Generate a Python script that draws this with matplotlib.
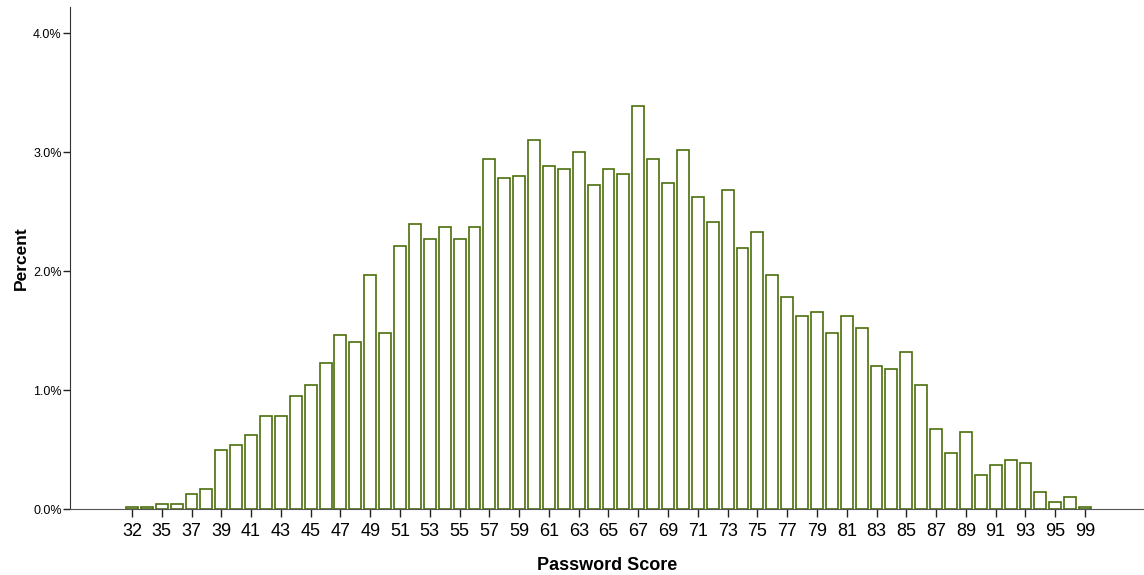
import matplotlib
matplotlib.use("Agg")
import matplotlib.pyplot as plt
import numpy as np

# password score categories (one bar each) and percent of respondents
scores = [32, 34, 35, 36, 37, 38, 39, 40, 41, 42, 43, 44, 45, 46, 47, 48, 49, 50,
          51, 52, 53, 54, 55, 56, 57, 58, 59, 60, 61, 62, 63, 64, 65, 66, 67, 68,
          69, 70, 71, 72, 73, 74, 75, 76, 77, 78, 79, 80, 81, 82, 83, 84, 85, 86,
          87, 88, 89, 90, 91, 92, 93, 94, 95, 97, 99]
percent = [0.02, 0.02, 0.04, 0.04, 0.13, 0.17, 0.50, 0.54, 0.62, 0.78, 0.78, 0.95,
           1.04, 1.23, 1.46, 1.40, 1.97, 1.48, 2.21, 2.40, 2.27, 2.37, 2.27, 2.37,
           2.94, 2.78, 2.80, 3.10, 2.88, 2.86, 3.00, 2.72, 2.86, 2.82, 3.39, 2.94,
           2.74, 3.02, 2.62, 2.41, 2.68, 2.19, 2.33, 1.97, 1.78, 1.62, 1.66, 1.48,
           1.62, 1.52, 1.20, 1.18, 1.32, 1.04, 0.67, 0.47, 0.65, 0.29, 0.37, 0.41,
           0.39, 0.14, 0.06, 0.10, 0.02]
ytick_vals = [0, 1, 2, 3, 4]

plt.rcParams['font.family'] = ['Liberation Sans', 'DejaVu Sans']

fig = plt.figure(figsize=(11.44, 5.75), dpi=100)
ax = fig.add_axes([70 / 1144, 66 / 575, 1074 / 1144, 502 / 575])

pos = np.arange(len(scores))
ax.bar(pos, percent, width=0.8, facecolor='white', edgecolor='#4a6e0c', linewidth=1.2)

ax.set_xlim(-4.16, len(scores) - 1 + 3.96)
ax.set_ylim(0, 4.22)

ax.set_xticks(pos[::2])
ax.set_xticklabels([str(s) for s in scores[::2]],
                   family=['Liberation Sans Narrow', 'Liberation Sans', 'DejaVu Sans'],
                   fontsize=13)
ax.set_yticks(ytick_vals)
ax.set_yticklabels([f"{v:.1f}%" for v in ytick_vals], fontsize=9)

ax.tick_params(axis='x', length=6, width=1, color='#222222', pad=4)
ax.tick_params(axis='y', length=5, width=1, color='#222222', pad=1)

for side in ['top', 'right']:
    ax.spines[side].set_visible(False)
ax.spines['left'].set_color('#333333')
ax.spines['bottom'].set_color('#555555')

ax.set_xlabel("Password Score", fontsize=13, fontweight='bold', labelpad=12)
ax.set_ylabel("Percent", fontsize=12.5, fontweight='bold', labelpad=3)

fig.savefig("out.png", dpi=100)
